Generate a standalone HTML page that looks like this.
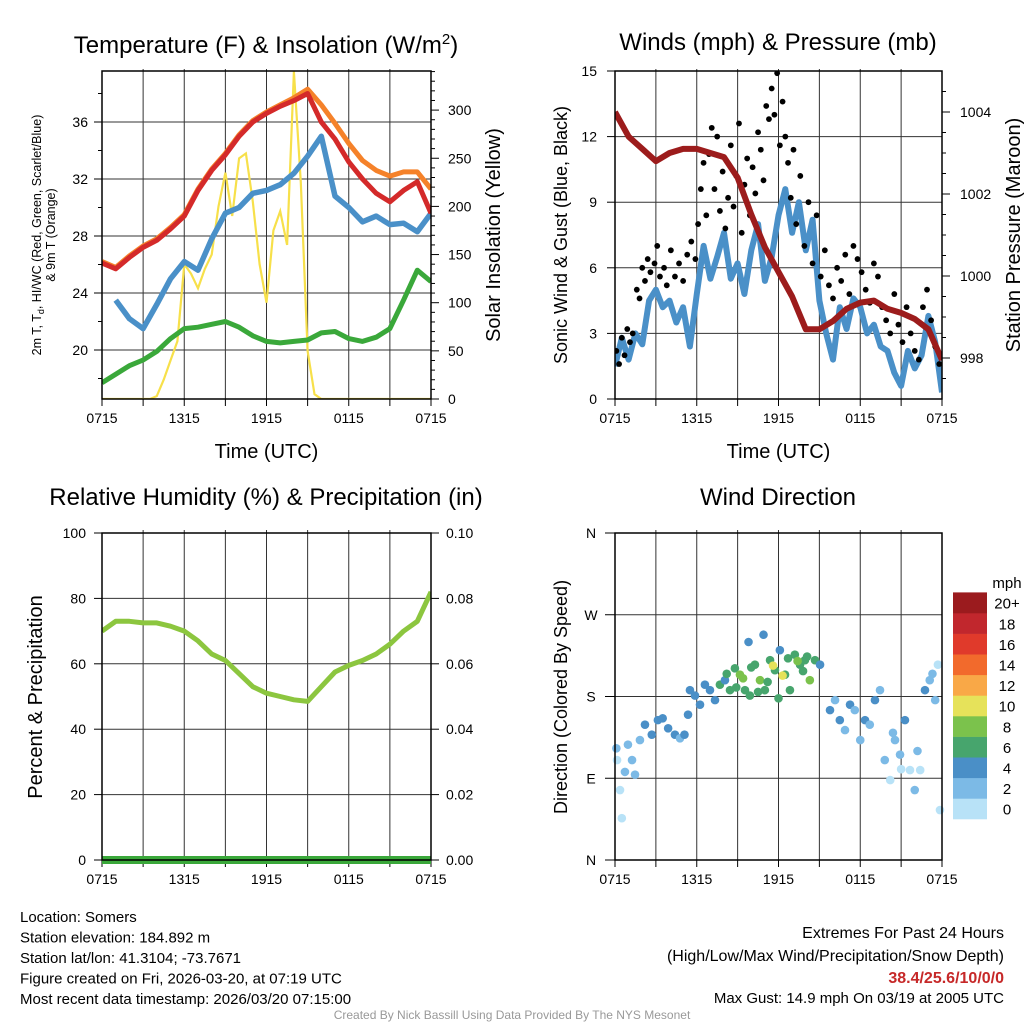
<!DOCTYPE html>
<html><head><meta charset="utf-8">
<style>
html,body{margin:0;padding:0;background:#fff;}
svg{display:block;font-family:"Liberation Sans",Arial,sans-serif;}
</style></head>
<body>
<svg id="chart" width="1024" height="1024" viewBox="0 0 1024 1024" xmlns="http://www.w3.org/2000/svg"></svg>
<script>
// ---------- DATA ----------
const timeTicks = ["0715","1315","1915","0115","0715"];
// hourly (0..24 h after 0715 UTC)
const tempRed = [26.1,25.7,26.5,27.2,27.7,28.5,29.4,31.2,32.6,33.7,35.0,36.0,36.6,37.1,37.5,38.0,36.0,34.8,33.2,32.0,31.0,30.4,31.2,31.8,29.6];
const temp9m  = [26.2,25.8,26.6,27.3,27.8,28.6,29.5,31.3,32.7,33.8,35.1,36.1,36.7,37.2,37.7,38.3,37.2,35.9,34.5,33.3,32.6,32.2,32.5,32.5,31.3];
const windChill = [null,23.5,22.2,21.5,23.2,25.0,26.2,25.6,27.8,29.6,30.0,31.0,31.2,31.6,32.4,33.6,35.0,30.8,30.0,29.0,29.4,28.8,28.9,28.3,29.6];
const dewPoint = [17.7,18.3,18.9,19.3,19.9,20.8,21.5,21.6,21.8,22.0,21.6,21.0,20.6,20.5,20.6,20.7,21.2,21.3,20.8,20.6,20.9,21.5,23.5,25.6,24.8];
// half-hourly insolation
const insolation = [0,0,0,0,0,0,0,0,3,20,40,60,140,130,115,135,150,200,235,190,250,255,205,140,100,175,195,160,340,225,50,5,0,0,0,0,0,0,0,0,0,0,0,0,0,0,0,0,0];
const tempTicks = [20,24,28,32,36];
const solarTicks = [0,50,100,150,200,250,300];

// winds: half-hourly sonic wind
const sonicWind = [1.5,2.8,1.8,3.0,2.5,4.5,5.0,4.2,4.5,3.5,4.2,2.4,4.8,7.0,5.5,6.5,7.6,5.5,6.2,4.8,6.8,8.0,5.4,6.5,8.4,9.6,7.6,9.0,6.8,8.2,4.5,3.0,1.8,4.2,3.2,4.6,4.2,3.0,3.4,2.4,2.2,1.2,0.6,2.2,1.4,2.0,3.8,2.6,0.3];
const gustHour = [0.1,0.3,0.5,0.7,0.9,1.1,1.3,1.6,1.8,2.0,2.2,2.4,2.6,2.9,3.1,3.3,3.6,3.8,4.1,4.4,4.7,5.0,5.3,5.6,5.9,6.1,6.3,6.5,6.7,6.9,7.1,7.3,7.5,7.7,7.9,8.1,8.3,8.5,8.7,8.9,9.1,9.3,9.5,9.7,9.9,10.1,10.3,10.5,10.7,10.9,11.1,11.3,11.5,11.7,11.9,12.1,12.3,12.5,12.7,12.9,13.1,13.3,13.6,13.9,14.2,14.5,14.8,15.1,15.4,15.7,16.0,16.3,16.6,16.9,17.2,17.5,17.8,18.1,18.4,18.7,19.0,19.3,19.6,19.9,20.2,20.5,20.8,21.1,21.4,21.7,22.0,22.3,22.6,22.9,23.2,23.5,23.8];
const gustVal  = [2.2,1.6,2.8,2.0,3.2,2.6,3.0,5.0,4.6,6.0,5.4,6.4,5.8,6.2,7.0,5.6,6.0,5.2,6.8,5.6,6.2,5.4,6.6,7.2,6.4,8.0,9.6,10.8,8.4,11.2,12.4,9.6,12.0,8.6,10.4,7.8,9.2,11.6,8.8,10.2,12.6,7.6,9.8,11.0,8.4,10.6,9.4,12.2,11.4,10.0,13.4,12.8,14.2,13.0,14.9,11.6,13.6,12.0,10.8,9.2,11.4,8.0,10.2,7.0,9.0,6.2,8.4,5.6,6.8,5.2,4.6,6.0,5.4,6.6,4.8,7.0,6.4,5.8,5.0,4.4,6.2,5.6,4.2,3.6,3.0,4.8,3.4,2.6,4.2,3.0,2.2,1.8,4.2,5.0,3.6,2.4,1.6];
const pressure = [1004.0,1003.4,1003.1,1002.8,1003.0,1003.1,1003.1,1003.0,1002.9,1002.4,1001.5,1000.7,1000.1,999.5,998.7,998.7,998.9,999.2,999.35,999.4,999.2,999.1,998.95,998.7,997.95];
const windTicks = [0,3,6,9,12,15];
const presTicks = [998,1000,1002,1004];

// RH hourly
const relHum = [70,73,73,72.5,72.5,71.5,70,67,63,61,57,53,51,50,49,48.5,53,57.5,59.5,61,63,66,70,73,82];
const precip = [0,0,0,0,0,0,0,0,0,0,0,0,0,0,0,0,0,0,0,0,0,0,0,0,0];
const rhTicks = [0,20,40,60,80,100];
const precipTicks = ["0.00","0.02","0.04","0.06","0.08","0.10"];

// wind direction scatter
const dirHour = [0.1,0.15,0.37,0.5,0.73,0.95,1.25,1.47,1.83,2.2,2.7,3.15,3.5,3.9,4.4,4.77,5.1,5.36,5.5,5.87,6.24,6.6,6.97,7.34,7.7,8.07,8.44,8.8,9.17,9.54,9.9,10.27,10.64,11.0,11.38,11.74,12.1,12.48,12.84,13.2,13.58,13.94,14.3,14.68,15.05,8.2,8.9,9.4,10.0,10.5,11.2,11.6,12.3,12.7,13.4,13.8,14.1,9.8,10.9,12.0,15.78,16.15,16.5,16.88,17.25,17.6,18.0,18.35,18.7,19.08,19.45,19.8,20.2,20.55,20.92,21.28,21.65,22.0,22.4,22.75,23.1,23.5,23.7,23.85,20.4,21.0,22.2,23.3];
const dirDeg  = [123,110,77,46,97,127,110,94,132,149,138,154,156,145,138,134,138,160,187,181,171,193,187,176,193,198,187,211,204,187,181,215,198,187,220,209,231,204,187,226,215,220,198,220,215,205,190,200,212,185,196,214,203,222,219,208,224,240,248,178,165,176,154,143,171,165,132,154,149,176,187,110,88,132,116,154,99,77,99,187,198,176,215,55,140,100,120,205];
const dirSpeed = [2,1,1,0,2,2,3,2,3,4,4,4,4,4,4,3,4,4,4,4,4,5,4,5,6,5,7,6,8,6,6,7,8,6,7,6,4,6,6,7,6,7,8,6,4,7,6,8,6,7,6,10,10,7,8,6,6,4,4,6,4,3,4,3,4,3,2,4,3,4,3,2,1,3,2,4,1,2,1,4,3,2,1,1,2,0,2,3];
const speedBins = ["0","2","4","6","8","10","12","14","16","18","20+"];
const speedColors = ["#b8e2f7","#7cbae6","#4a8fc7","#47a56d","#7bc24c","#e6e25a","#f9a847","#f26a2c","#e03a2b","#c1272d","#9b1b1e"];
const dirTicks = [["N",0],["E",90],["S",180],["W",270],["N",360]];

// ---------- DRAW ----------
const NS="http://www.w3.org/2000/svg";
const svg=document.getElementById('chart');
function mk(tag,attrs,parent){const e=document.createElementNS(NS,tag);for(const k in attrs)e.setAttribute(k,attrs[k]);(parent||svg).appendChild(e);return e;}
function txt(s,x,y,size,anchor,parent,extra){const e=mk('text',Object.assign({x:x,y:y,'font-size':size,'text-anchor':anchor||'middle',fill:'#000'},extra||{}),parent);e.textContent=s;return e;}

function panel(name){
  const g=mk('g',{});
  
  
  return g;
}
function frame(g,L,R,T,B){
  const r=mk('rect',{x:L,y:T,width:R-L,height:B-T,fill:'none',stroke:'#000','stroke-width':1.5},g);
  
  
}
function timeAxis(g,L,R,B,withLabel){
  const sx=h=>L+h*(R-L)/24;
  for(let h=3;h<24;h+=3){mk('line',{x1:sx(h),x2:sx(h),y1:B-330,y2:B,stroke:'#333','stroke-width':1},g);}
  for(let h=0;h<=24;h+=3){mk('line',{x1:sx(h),x2:sx(h),y1:B,y2:B+7,stroke:'#000','stroke-width':1},g);}
  timeTicks.forEach((t,i)=>{const e=txt(t,sx(i*6),B+24,14,'middle',g);});
  if(withLabel){const e=txt('Time (UTC)',(L+R)/2,B+59,20,'middle',g);}
  return sx;
}
function pathFrom(vals,sx,sy,step){let d='';let pen=false;vals.forEach((v,i)=>{if(v===null){pen=false;return;}d+=(pen?'L':'M')+sx(i*step).toFixed(1)+','+sy(v).toFixed(1);pen=true;});return d;}

// ===== Panel 1 =====
(function(){
  const L=102,R=431,T=71,B=399;
  const g=panel('temperature-panel');
  const sy=v=>350-(v-20)*14.25;
  const sy2=v=>399-v*0.963;
  const sx=timeAxis(g,L,R,B,true);
  tempTicks.forEach(v=>{mk('line',{x1:L,x2:R,y1:sy(v),y2:sy(v),stroke:'#333','stroke-width':1},g);mk('line',{x1:L-8,x2:L,y1:sy(v),y2:sy(v),stroke:'#000'},g);const e=txt(String(v),88,sy(v)+5,14,'end',g);});
  for(let v=18;v<=38;v+=2){if(v%4)mk('line',{x1:L-4,x2:L,y1:sy(v),y2:sy(v),stroke:'#000'},g);}
  solarTicks.forEach(v=>{mk('line',{x1:R,x2:R+8,y1:sy2(v),y2:sy2(v),stroke:'#000'},g);const e=txt(String(v),448,sy2(v)+5,14,'start',g);});
  for(let v=10;v<=340;v+=10){if(v%50)mk('line',{x1:R,x2:R+4,y1:sy2(v),y2:sy2(v),stroke:'#000'},g);}
  const clip=mk('clipPath',{id:'c1'},g);mk('rect',{x:L,y:T,width:R-L,height:B-T},clip);
  const pg=mk('g',{'clip-path':'url(#c1)'},g);
  const sol=mk('path',{d:pathFrom(insolation,sx,sy2,0.5),fill:'none',stroke:'#f7e04a','stroke-width':2.2},pg);
  
  const dp=mk('path',{d:pathFrom(dewPoint,sx,sy,1),fill:'none',stroke:'#3aa83a','stroke-width':5,'stroke-linejoin':'round'},pg);
  
  const wc=mk('path',{d:pathFrom(windChill,sx,sy,1),fill:'none',stroke:'#4a90c8','stroke-width':5.5,'stroke-linejoin':'round'},pg);
  
  const t9=mk('path',{d:pathFrom(temp9m,sx,sy,1),fill:'none',stroke:'#f5822a','stroke-width':5,'stroke-linejoin':'round'},pg);
  
  const t2=mk('path',{d:pathFrom(tempRed,sx,sy,1),fill:'none',stroke:'#d42a2a','stroke-width':5,'stroke-linejoin':'round'},pg);
  
  frame(g,L,R,T,B);
  const ti=mk('text',{x:266,y:53,'font-size':24,'text-anchor':'middle'},g);
  ti.innerHTML='Temperature (F) &amp; Insolation (W/m<tspan dy="-9" font-size="15">2</tspan><tspan dy="9">)</tspan>';
  
  const yl=mk('text',{x:0,y:0,'font-size':12.5,'text-anchor':'middle',transform:'translate(41,235) rotate(-90)'},g);
  yl.innerHTML='2m T, T<tspan dy="3" font-size="9">d</tspan><tspan dy="-3">, HI/WC (Red, Green, Scarlet/Blue)</tspan>';
  
  const yl2=txt('& 9m T (Orange)',0,0,12.5,'middle',g,{transform:'translate(55,235) rotate(-90)'});
  
  const yr=txt('Solar Insolation (Yellow)',0,0,20,'middle',g,{transform:'translate(500,235) rotate(-90)'});
  
})();

// ===== Panel 2 =====
(function(){
  const L=615,R=942,T=71,B=399;
  const g=panel('winds-panel');
  const sy=v=>399-v*(328/15);
  const sy2=v=>358-(v-998)*41;
  const sx=timeAxis(g,L,R,B,true);
  windTicks.forEach(v=>{if(v>0&&v<15)mk('line',{x1:L,x2:R,y1:sy(v),y2:sy(v),stroke:'#333'},g);mk('line',{x1:L-8,x2:L,y1:sy(v),y2:sy(v),stroke:'#000'},g);const e=txt(String(v),597,sy(v)+5,14,'end',g);});
  presTicks.forEach(v=>{mk('line',{x1:R,x2:R+8,y1:sy2(v),y2:sy2(v),stroke:'#000'},g);const e=txt(String(v),960,sy2(v)+5,14,'start',g);});
  for(let v=997.5;v<=1004.5;v+=0.5){if(v%2)mk('line',{x1:R,x2:R+4,y1:sy2(v),y2:sy2(v),stroke:'#000'},g);}
  const clip=mk('clipPath',{id:'c2'},g);mk('rect',{x:L,y:T,width:R-L,height:B-T},clip);
  const pg=mk('g',{'clip-path':'url(#c2)'},g);
  const w=mk('path',{d:pathFrom(sonicWind,sx,sy,0.5),fill:'none',stroke:'#4a90c8','stroke-width':6,'stroke-linejoin':'round'},pg);
  
  gustHour.forEach((h,i)=>{const c=mk('circle',{cx:sx(h),cy:sy(gustVal[i]),r:2.9,fill:'#000'},pg);
    
    });
  const p=mk('path',{d:pathFrom(pressure,sx,sy2,1),fill:'none',stroke:'#9c1c1c','stroke-width':6,'stroke-linejoin':'round'},pg);
  
  frame(g,L,R,T,B);
  let e=txt('Winds (mph) & Pressure (mb)',778,50,24,'middle',g);
  e=txt('Sonic Wind & Gust (Blue, Black)',0,0,18,'middle',g,{transform:'translate(567,235) rotate(-90)'});
  e=txt('Station Pressure (Maroon)',0,0,20,'middle',g,{transform:'translate(1020,235) rotate(-90)'});
})();

// ===== Panel 3 =====
(function(){
  const L=102,R=431,T=533,B=860;
  const g=panel('humidity-panel');
  const sy=v=>B-v*(B-T)/100;
  const sx=timeAxis(g,L,R,B,false);
  rhTicks.forEach((v,i)=>{if(v>0&&v<100)mk('line',{x1:L,x2:R,y1:sy(v),y2:sy(v),stroke:'#333'},g);mk('line',{x1:L-8,x2:L,y1:sy(v),y2:sy(v),stroke:'#000'},g);mk('line',{x1:R,x2:R+8,y1:sy(v),y2:sy(v),stroke:'#000'},g);
    let e=txt(String(v),86,sy(v)+5,14,'end',g);
    e=txt(precipTicks[i],446,sy(v)+5,14,'start',g);});
  const clip=mk('clipPath',{id:'c3'},g);mk('rect',{x:L,y:T,width:R-L,height:B-T+6},clip);
  const pg=mk('g',{'clip-path':'url(#c3)'},g);
  const pr=mk('path',{d:pathFrom(precip,sx,v=>sy(v*1000),1),fill:'none',stroke:'#3aa83a','stroke-width':8},pg);
  
  const rh=mk('path',{d:pathFrom(relHum,sx,sy,1),fill:'none',stroke:'#8cc63f','stroke-width':5,'stroke-linejoin':'round'},pg);
  
  frame(g,L,R,T,B);
  let e=txt('Relative Humidity (%) & Precipitation (in)',266,505,24,'middle',g);
  e=txt('Percent & Precipitation',0,0,20,'middle',g,{transform:'translate(42,697) rotate(-90)'});
})();

// ===== Panel 4 =====
(function(){
  const L=615,R=942,T=533,B=860;
  const g=panel('wind-direction-panel');
  const sy=v=>B-v*(B-T)/360;
  const sx=timeAxis(g,L,R,B,false);
  dirTicks.forEach(([s,v])=>{if(v>0&&v<360)mk('line',{x1:L,x2:R,y1:sy(v),y2:sy(v),stroke:'#333'},g);mk('line',{x1:L-10,x2:L,y1:sy(v),y2:sy(v),stroke:'#000'},g);const e=txt(s,591,sy(v)+5,14,'middle',g);});
  const pg=mk('g',{},g);
  dirHour.forEach((h,i)=>{const bin=Math.min(10,Math.floor(dirSpeed[i]/2));const c=mk('circle',{cx:sx(h),cy:sy(dirDeg[i]),r:4.3,fill:speedColors[bin]},pg);
    
    });
  frame(g,L,R,T,B);
  let e=txt('Wind Direction',778,505,24,'middle',g);
  e=txt('Direction (Colored By Speed)',0,0,18,'middle',g,{transform:'translate(567,697) rotate(-90)'});
  const cb=mk('g',{},g);
  
  
  const bh=20.6;
  speedBins.forEach((s,i)=>{const y=819-(i+1)*bh;mk('rect',{x:953,y:y,width:34,height:bh+0.3,fill:speedColors[i]},cb);const t=txt(s,1007,y+bh/2+6,15,'middle',cb);});
  e=txt('mph',1007,588,15,'middle',cb);
})();

// ===== Footer =====
(function(){
  const g=mk('g',{});
  
  
  const lines=['Location: Somers','Station elevation: 184.892 m','Station lat/lon: 41.3104; -73.7671','Figure created on Fri, 2026-03-20, at 07:19 UTC','Most recent data timestamp: 2026/03/20 07:15:00'];
  lines.forEach((s,i)=>{const e=txt(s,20,922+i*20.5,15,'start',g);});
  let e=txt('Extremes For Past 24 Hours',1004,938,16,'end',g);
  e=txt('(High/Low/Max Wind/Precipitation/Snow Depth)',1004,961,16,'end',g);
  e=txt('38.4/25.6/10/0/0',1004,983,16,'end',g,{fill:'#c62828','font-weight':'bold'});
  e=txt('Max Gust: 14.9 mph On 03/19 at 2005 UTC',1004,1003,15,'end',g);
  e=txt('Created By Nick Bassill Using Data Provided By The NYS Mesonet',512,1019,12,'middle',g,{fill:'#999'});
})();
</script>
</body></html>
